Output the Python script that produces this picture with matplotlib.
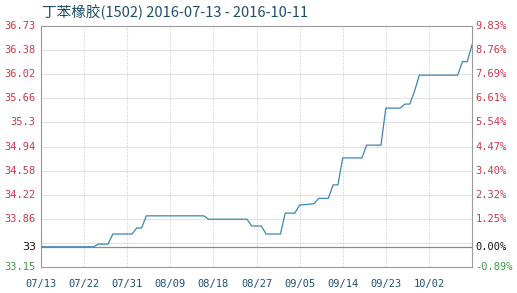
import matplotlib
matplotlib.use("Agg")
import matplotlib.pyplot as plt
import matplotlib.dates as mdates
import pandas as pd

# price points (line connects them)
dates = ['2016-07-13', '2016-07-24', '2016-07-25', '2016-07-27', '2016-07-28',
         '2016-08-01', '2016-08-02', '2016-08-03', '2016-08-04', '2016-08-16',
         '2016-08-17', '2016-08-25', '2016-08-26', '2016-08-28', '2016-08-29',
         '2016-09-01', '2016-09-02', '2016-09-04', '2016-09-05', '2016-09-08',
         '2016-09-09', '2016-09-11', '2016-09-12', '2016-09-13', '2016-09-14',
         '2016-09-18', '2016-09-19', '2016-09-22', '2016-09-23', '2016-09-26',
         '2016-09-27', '2016-09-28', '2016-09-29', '2016-09-30', '2016-10-08',
         '2016-10-09', '2016-10-10', '2016-10-11']
prices = [33.45, 33.45, 33.49, 33.49, 33.64,
          33.64, 33.73, 33.73, 33.91, 33.91,
          33.86, 33.86, 33.76, 33.76, 33.64,
          33.64, 33.95, 33.95, 34.07, 34.09,
          34.17, 34.17, 34.37, 34.37, 34.77,
          34.77, 34.96, 34.96, 35.51, 35.51,
          35.57, 35.57, 35.76, 36.00, 36.00,
          36.20, 36.20, 36.45]

base_price = 33.44
y_min, y_max = 33.15, 36.73
grid_levels = [33.15 + i * (36.73 - 33.15) / 10 for i in range(11)]
left_labels = ['33.15', '', '33.86', '34.22', '34.58', '34.94', '35.3',
               '35.66', '36.02', '36.38', '36.73']
right_labels = ['-0.89%', '', '1.25%', '2.32%', '3.40%', '4.47%', '5.54%',
                '6.61%', '7.69%', '8.76%', '9.83%']
x_ticks = ['2016-07-22', '2016-07-31', '2016-08-09', '2016-08-18', '2016-08-27',
           '2016-09-05', '2016-09-14', '2016-09-23', '2016-10-02']
x_labels = ['07/13', '07/22', '07/31', '08/09', '08/18', '08/27',
            '09/05', '09/14', '09/23', '10/02']

red = '#c8374a'
green = '#3a9a4a'
navy = '#1f4e79'
mono = 'DejaVu Sans Mono'

x = pd.to_datetime(dates)
fig = plt.figure(figsize=(5.17, 2.93), dpi=100)
ax = fig.add_axes([41 / 517, 26 / 293, 431 / 517, 241 / 293])

x0 = pd.Timestamp('2016-07-13')
x1 = pd.Timestamp('2016-10-11')
ax.set_xlim(x0, x1)
ax.set_ylim(y_min, y_max)

# grid
for lv in grid_levels[1:-1]:
    ax.axhline(lv, color='#e2e2e2', lw=0.8, zorder=0)
for d in x_ticks:
    ax.axvline(pd.Timestamp(d), color='#e0e0e0', lw=0.8, ls=(0, (2, 1)), zorder=0)
ax.axhline(base_price, color='#8a8a8a', lw=0.9, zorder=1)

ax.plot(x, prices, color='#3b87b0', lw=0.9, zorder=3)

for s in ax.spines.values():
    s.set_color('#9a9a9a')
    s.set_linewidth(0.8)

ax.set_xticks([])
ax.set_yticks([])

# left labels
for lv, lab in zip(grid_levels, left_labels):
    if lab:
        c = green if lab == '33.15' else red
        ax.text(-0.012, lv, lab, transform=ax.get_yaxis_transform(), ha='right',
                va='center', fontsize=7.5, color=c, family=mono)
ax.text(-0.012, base_price, '33', transform=ax.get_yaxis_transform(), ha='right',
        va='center', fontsize=8, color='#111111')

# right labels
for lv, lab in zip(grid_levels, right_labels):
    if lab:
        c = green if lab.startswith('-') else red
        ax.text(1.008, lv, lab, transform=ax.get_yaxis_transform(), ha='left',
                va='center', fontsize=7.5, color=c, family=mono)
ax.text(1.008, base_price, '0.00%', transform=ax.get_yaxis_transform(), ha='left',
        va='center', fontsize=7.5, color='#111111', family=mono)

# x labels
tick_pos = [x0] + [pd.Timestamp(d) for d in x_ticks]
for p, lab in zip(tick_pos, x_labels):
    ax.text(p, -0.07, lab, transform=ax.get_xaxis_transform(), ha='center',
            va='center', fontsize=7.5, color=navy, family=mono)

fig.text(42 / 517, 1 - 12 / 293, '丁苯橡胶(1502) 2016-07-13 - 2016-10-11',
         ha='left', va='center', fontsize=10.5, color='#1d4f6a',
         family=['Noto Sans CJK SC', 'DejaVu Sans'])

fig.savefig('out.png', dpi=100)
